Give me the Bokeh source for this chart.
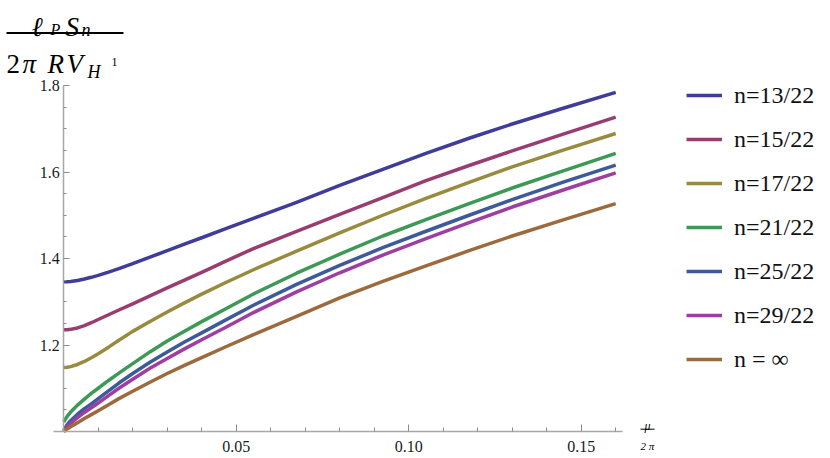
from bokeh.plotting import figure
from bokeh.models import (Range1d, FixedTicker, PrintfTickFormatter, Legend,
                          LegendItem, Label, BoxAnnotation)
from bokeh.embed import file_html
from bokeh.resources import INLINE

# ---- data ----
mu_over_2pi = [0, 0.001, 0.002, 0.004, 0.006, 0.008, 0.01, 0.013, 0.016, 0.02, 0.025, 0.03,
               0.035, 0.04, 0.047, 0.055, 0.0675, 0.08, 0.0925, 0.105, 0.1175, 0.13, 0.145, 0.16]
n13 = [1.346, 1.3462, 1.3468, 1.349, 1.3525, 1.3565, 1.361, 1.3685, 1.3765, 1.388, 1.403, 1.418,
       1.433, 1.448, 1.469, 1.493, 1.530, 1.569, 1.606, 1.643, 1.678, 1.711, 1.748, 1.784]
n15 = [1.235, 1.2353, 1.2362, 1.2395, 1.2448, 1.2515, 1.2590, 1.2700, 1.2810, 1.295, 1.3135, 1.332,
       1.350, 1.368, 1.394, 1.423, 1.463, 1.502, 1.541, 1.580, 1.615, 1.649, 1.688, 1.727]
n17 = [1.148, 1.1485, 1.150, 1.155, 1.162, 1.1705, 1.180, 1.195, 1.211, 1.2315, 1.2545, 1.2765,
       1.2975, 1.3175, 1.3445, 1.374, 1.417, 1.459, 1.500, 1.539, 1.576, 1.612, 1.651, 1.689]
n21 = [1.022, 1.035, 1.045, 1.061, 1.075, 1.088, 1.100, 1.118, 1.135, 1.157, 1.184, 1.209,
       1.232, 1.254, 1.284, 1.318, 1.366, 1.410, 1.452, 1.490, 1.527, 1.563, 1.603, 1.643]
n25 = [1.002, 1.016, 1.025, 1.040, 1.053, 1.064, 1.076, 1.094, 1.112, 1.134, 1.160, 1.184,
       1.207, 1.228, 1.258, 1.292, 1.340, 1.384, 1.425, 1.463, 1.500, 1.536, 1.577, 1.616]
n29 = [1.000, 1.011, 1.019, 1.032, 1.044, 1.055, 1.066, 1.083, 1.100, 1.121, 1.146, 1.169,
       1.191, 1.212, 1.241, 1.275, 1.323, 1.367, 1.408, 1.446, 1.483, 1.519, 1.559, 1.598]
ninf = [1.000, 1.006, 1.011, 1.020, 1.030, 1.039, 1.048, 1.062, 1.076, 1.093, 1.114, 1.134,
        1.153, 1.171, 1.196, 1.224, 1.266, 1.309, 1.347, 1.383, 1.418, 1.452, 1.490, 1.527]

series_labels = ["n=13/22", "n=15/22", "n=17/22", "n=21/22", "n=25/22", "n=29/22", "n = \u221e"]
series_values = [n13, n15, n17, n21, n25, n29, ninf]
series_colors = ["#3f3d99", "#993d71", "#998b3d", "#3d9955", "#3d5a99", "#a03da0", "#9c6a3d"]

x_major = [0.05, 0.10, 0.15]
x_minor = [0.01, 0.02, 0.03, 0.04, 0.06, 0.07, 0.08, 0.09, 0.11, 0.12, 0.13, 0.14, 0.16]
y_major = [1.2, 1.4, 1.6, 1.8]
y_minor = [1.05, 1.1, 1.15, 1.25, 1.3, 1.35, 1.45, 1.5, 1.55, 1.65, 1.7, 1.75]

SERIF = "Liberation Serif"
W, H = 830, 458
MB_TOP, MB_RIGHT = 5, 5
# pixel geometry of the reference: x = 0 at px 63.2, 3450 px per unit;
# y = 1.0 at py 431, 432.5 px per unit
PX0, SX = 63.2, 3450.0
PY1, SY = 431.0, 432.5


def xd(px):
    return (px - PX0) / SX


def yd(py):
    return 1.0 + (PY1 - py) / SY


p = figure(width=W, height=H, output_backend="svg", toolbar_location=None,
           x_range=Range1d(xd(0), xd(W - MB_RIGHT)),
           y_range=Range1d(yd(H), yd(MB_TOP)),
           x_axis_location="above", y_axis_location="right",
           min_border_left=0, min_border_bottom=0,
           min_border_top=MB_TOP, min_border_right=MB_RIGHT)
p.outline_line_color = None
p.grid.visible = False
p.background_fill_color = "white"
p.border_fill_color = "white"

xa, ya = p.xaxis[0], p.yaxis[0]
xa.fixed_location = 1.0
ya.fixed_location = 0.0
xa.bounds = (xd(53), xd(622))
ya.bounds = (1.0, 1.8)
for ax, maj, mnr, fmt in ((xa, x_major, x_minor, "%.2f"), (ya, y_major, y_minor, "%.1f")):
    ax.ticker = FixedTicker(ticks=maj, minor_ticks=mnr)
    ax.formatter = PrintfTickFormatter(format=fmt)
    ax.axis_line_color = "#a8a8a8"
    ax.axis_line_width = 1.5
    ax.major_tick_line_color = "#8c8c8c"
    ax.minor_tick_line_color = "#8c8c8c"
    ax.major_tick_in = 0
    ax.minor_tick_in = 0
    ax.major_label_text_font = SERIF
    ax.major_label_text_font_size = "16px"
    ax.major_label_text_color = "#1a1a1a"
xa.major_tick_out = 7
xa.minor_tick_out = 4
ya.major_tick_out = 6
ya.minor_tick_out = 3
xa.major_label_standoff = -27
ya.major_label_standoff = -30

items = []
for lab_text, vals, col in zip(series_labels, series_values, series_colors):
    r = p.line(mu_over_2pi, vals, line_color=col, line_width=3.5, line_join="round")
    items.append(LegendItem(label=lab_text, renderers=[r]))

legend = Legend(items=items, location=(686, H - 375),
                label_text_font=SERIF, label_text_font_size="24px",
                label_text_color="#111111",
                glyph_width=36, glyph_height=32, label_height=32, spacing=12,
                label_standoff=12, padding=0, margin=0,
                border_line_color=None, background_fill_alpha=0)
p.add_layout(legend)


def lab(px, py, text, size, italic=True, align="left"):
    p.add_layout(Label(x=xd(px), y=yd(py), text=text, text_font=SERIF,
                       text_font_size=f"{size}px",
                       text_font_style="italic" if italic else "normal",
                       text_baseline="alphabetic", text_align=align,
                       text_color="black"))


# y-axis title: fraction  l_P S_n / (2 pi R V_{H^1})
lab(31, 26, "\u2113", 27)
lab(50, 29, "P", 16)
lab(65, 26, "S", 27)
lab(81, 29, "n", 18)
p.add_layout(BoxAnnotation(left=xd(6), right=xd(123), top=yd(31.5), bottom=yd(33.5),
                           fill_color="black", fill_alpha=1, line_color=None))
lab(6, 63, "2", 27, italic=False)
lab(22, 63, "\u03c0", 27)
lab(47, 63, "R", 27)
lab(66, 63, "V", 27)
lab(87, 71, "H", 18)
lab(111, 61, "1", 12, italic=False)

# x-axis title: mu / 2 pi
lab(647, 425, "\u03bc", 12, align="center")
p.add_layout(BoxAnnotation(left=xd(640), right=xd(654), top=yd(428.2), bottom=yd(429.2),
                           fill_color="black", fill_alpha=1, line_color=None))
lab(647, 445, "2 \u03c0", 11, align="center")

open("out.html", "w").write(file_html(p, INLINE))
